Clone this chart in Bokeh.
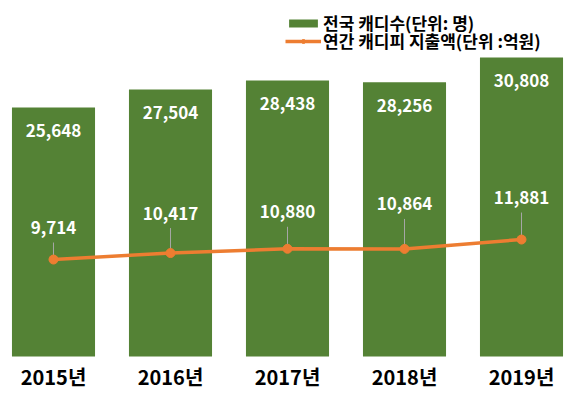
from bokeh.plotting import figure
from bokeh.models import FactorRange, Range1d, ColumnDataSource, Legend, LegendItem
from bokeh.core.properties import value
from bokeh.embed import file_html
from bokeh.resources import INLINE

# ---- data ----
years = ["2015년", "2016년", "2017년", "2018년", "2019년"]
caddies = [25648, 27504, 28438, 28256, 30808]
fees = [9714, 10417, 10880, 10864, 11881]
series_names = ["전국 캐디수(단위: 명)", "연간 캐디피 지출액(단위 :억원)"]

# ---- layout / style ----
FONT = "Noto Sans CJK KR"
GREEN = "#548235"
ORANGE = "#ED7D31"
W, H = 564, 390
fee_label_lift = [32, 40, 37, 45, 42]  # px above each point
Y_START, Y_END = -3502, 36668
FEE_START, FEE_END = -4475, 37779
fee_per_px = (FEE_END - FEE_START) / H

src = ColumnDataSource(dict(
    years=years,
    caddies=caddies,
    fees=fees,
    base=[0] * len(years),
    caddie_txt=[f"{v:,}" for v in caddies],
    fee_txt=[f"{v:,}" for v in fees],
    lift=[-l for l in fee_label_lift],
    lead_top=[f + (l - 15) * fee_per_px for f, l in zip(fees, fee_label_lift)],
    lead_bot=[f + 4 * fee_per_px for f in fees],
))

p = figure(
    x_range=FactorRange(*years, range_padding=-0.1325, range_padding_units="absolute"),
    y_range=Range1d(Y_START, Y_END),
    width=W, height=H,
    min_border_left=10, min_border_right=0, min_border_top=0, min_border_bottom=0,
    toolbar_location=None, output_backend="svg",
    x_axis_location=None, y_axis_location=None,
)
p.extra_y_ranges = {"fee": Range1d(FEE_START, FEE_END)}
p.outline_line_color = None
p.xgrid.visible = False
p.ygrid.visible = False
p.background_fill_color = "white"
p.border_fill_color = "white"

bars = p.vbar(x="years", top="caddies", bottom=0, width=0.71, source=src,
              fill_color=GREEN, line_color=None)
p.text(x="years", y="caddies", text="caddie_txt", source=src, y_offset=23,
       text_align="center", text_baseline="middle", text_color="white",
       text_font=value(FONT), text_font_style="bold", text_font_size="17px")

# category (year) labels under the bars
p.text(x="years", y="base", text="years", source=src, y_offset=20,
       text_align="center", text_baseline="middle", text_color="black",
       text_font=value(FONT), text_font_style="bold", text_font_size="20px")

p.segment(x0="years", y0="lead_bot", x1="years", y1="lead_top", source=src,
          y_range_name="fee", line_color="#A6A6A6", line_width=1)
line_r = p.line(x="years", y="fees", source=src, y_range_name="fee",
                line_color=ORANGE, line_width=3.5)
circ_r = p.scatter(x="years", y="fees", source=src, y_range_name="fee",
                   size=9, fill_color=ORANGE, line_color=ORANGE)
p.text(x="years", y="fees", text="fee_txt", source=src, y_range_name="fee",
       y_offset="lift", text_align="center", text_baseline="middle",
       text_color="white", text_font=value(FONT), text_font_style="bold",
       text_font_size="17px")


def make_legend(item, loc):
    lg = Legend(items=[item], location=loc)
    lg.border_line_color = None
    lg.background_fill_alpha = 0
    lg.padding = 0
    lg.margin = 0
    lg.spacing = 0
    lg.glyph_width = 36
    lg.glyph_height = 10
    lg.label_height = 19
    lg.label_standoff = 2
    lg.label_text_font = FONT
    lg.label_text_font_style = "bold"
    lg.label_text_font_size = "17px"
    lg.label_text_color = "black"
    lg.label_text_baseline = "middle"
    return lg


p.add_layout(make_legend(LegendItem(label=value(series_names[0]), renderers=[bars]),
                         (275, 355)), "center")
p.add_layout(make_legend(LegendItem(label=value(series_names[1]), renderers=[line_r, circ_r]),
                         (275, 337)), "center")

open("out.html", "w").write(file_html(p, INLINE))
